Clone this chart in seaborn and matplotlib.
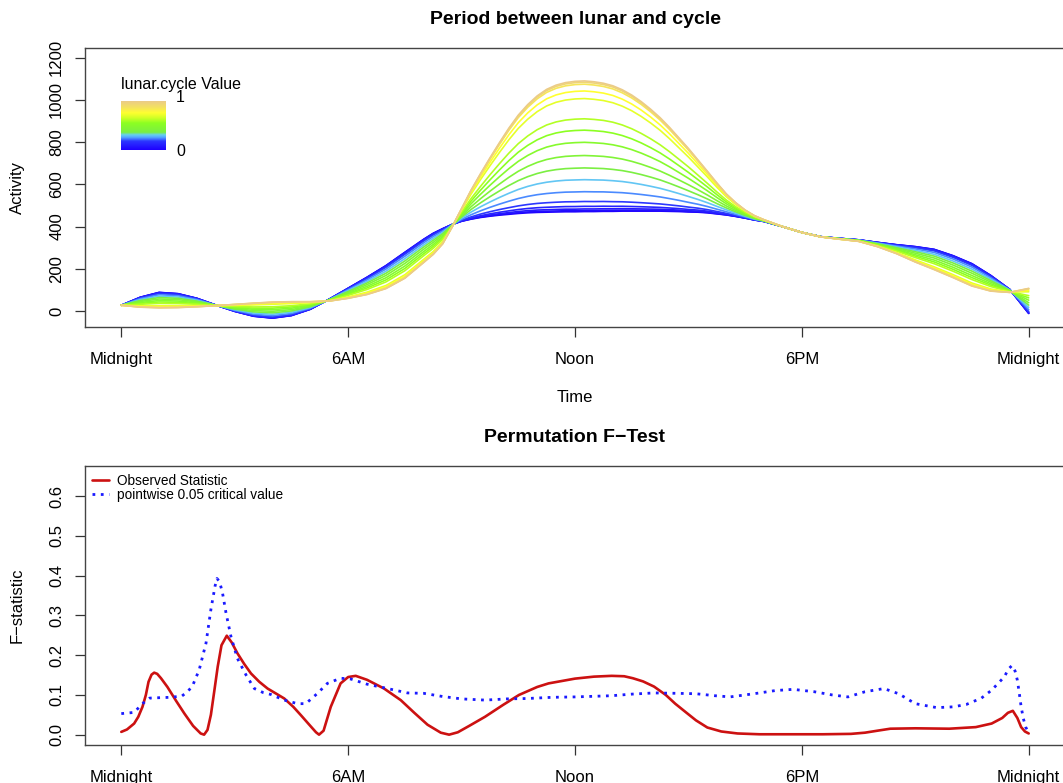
import numpy as np
import pandas as pd
import matplotlib
matplotlib.use("Agg")
import matplotlib.pyplot as plt
from matplotlib.colors import LinearSegmentedColormap
from matplotlib.lines import Line2D
import seaborn as sns

# ---------------- donnees ----------------
# grille horaire (heures depuis minuit), plus fine autour du pic de midi
hours = [0, 0.5, 1, 1.5, 2, 2.5, 3, 3.5, 4, 4.5, 5, 5.5, 6, 6.5, 7, 7.5,
         8, 8.25, 8.5, 8.75, 9, 9.25, 9.5, 9.75, 10, 10.25, 10.5, 10.75, 11, 11.25,
         11.5, 11.75, 12, 12.25, 12.5, 12.75, 13, 13.25, 13.5, 13.75, 14, 14.25,
         14.5, 14.75, 15, 15.25, 15.5, 15.75, 16, 16.25, 16.5, 16.75, 17,
         17.5, 18, 18.5, 19, 19.5, 20, 20.5, 21, 21.5, 22, 22.5, 23, 23.5, 24]

# courbe lunar.cycle = 0 (bleu)
activity_low = [27, 65, 88, 82, 60, 28, -2, -25, -34, -22, 8, 56, 108, 160, 215, 278,
                340, 368, 390, 410, 425, 435, 443, 449, 454, 458, 462, 465, 467, 468,
                469, 470, 470, 471, 471, 472, 472, 473, 473, 473, 473, 473,
                472, 471, 469, 468, 465, 460, 455, 448, 440, 431, 424,
                399, 372, 352, 344, 337, 325, 314, 305, 292, 262, 224, 168, 102, -12]

# courbe lunar.cycle = 1 (beige)
activity_high = [27, 18, 15, 16, 20, 25, 31, 37, 42, 44, 44, 47, 60, 78, 106, 155,
                 230, 268, 318, 398, 485, 572, 650, 725, 797, 866, 928, 978, 1019, 1050,
                 1070, 1082, 1088, 1090, 1086, 1079, 1067, 1048, 1023, 992, 956, 916,
                 870, 820, 770, 716, 662, 607, 555, 513, 478, 451, 432,
                 399, 372, 351, 340, 330, 305, 272, 232, 196, 158, 118, 94, 88, 107]

# position relative de chaque courbe entre les deux extremes (lue au pic de midi)
peak_weight = [0, 0.008, 0.02, 0.04, 0.077, 0.152, 0.244, 0.334, 0.429, 0.53,
               0.623, 0.71, 0.865, 0.923, 0.975, 0.99, 1.0]
lunar_value = [0, 0.04, 0.08, 0.12, 0.18, 0.24, 0.30, 0.37, 0.43, 0.49,
               0.55, 0.61, 0.70, 0.76, 0.85, 0.93, 1.0]

# statistique F observee
obs_time = [0, 0.15, 0.34, 0.45, 0.56, 0.65, 0.72, 0.8, 0.87, 0.95, 1.05, 1.22, 1.45, 1.67,
            1.9, 2.1, 2.19, 2.28, 2.37, 2.46, 2.55, 2.65, 2.79, 2.92, 3.07, 3.25, 3.43,
            3.65, 3.87, 4.1, 4.31, 4.55, 4.75, 5.0, 5.15, 5.23, 5.35, 5.54, 5.8, 6.0, 6.2,
            6.5, 6.95, 7.39, 7.75, 8.1, 8.45, 8.67, 8.9, 9.2, 9.62, 10.1, 10.52, 11.0,
            11.3, 12.0, 12.5, 12.97, 13.3, 13.53, 13.8, 14.09, 14.4, 14.65, 14.95, 15.2,
            15.5, 15.87, 16.3, 16.88, 18.55, 19.3, 19.67, 20.0, 20.34, 21.0, 21.9, 22.6,
            23.02, 23.3, 23.45, 23.58, 23.7, 23.8, 23.9, 24.0]
obs_stat = [0.007, 0.013, 0.028, 0.045, 0.07, 0.1, 0.133, 0.151, 0.156, 0.153, 0.142,
            0.12, 0.085, 0.053, 0.022, 0.003, 0.0, 0.012, 0.05, 0.11, 0.171, 0.225, 0.249,
            0.232, 0.205, 0.178, 0.154, 0.133, 0.116, 0.103, 0.091, 0.07, 0.049, 0.022,
            0.006, 0.0, 0.01, 0.07, 0.129, 0.145, 0.148, 0.138, 0.116, 0.087, 0.055,
            0.025, 0.005, 0.0, 0.006, 0.022, 0.045, 0.075, 0.1, 0.12, 0.129, 0.141, 0.146,
            0.148, 0.147, 0.142, 0.134, 0.121, 0.1, 0.078, 0.055, 0.036, 0.018, 0.008,
            0.003, 0.001, 0.001, 0.002, 0.005, 0.01, 0.015, 0.016, 0.015, 0.019, 0.028,
            0.042, 0.055, 0.06, 0.042, 0.019, 0.008, 0.003]

# valeur critique ponctuelle 0.05
crit_time = [0, 0.34, 0.56, 0.75, 1.0, 1.3, 1.6, 1.75, 1.88, 2.06, 2.24, 2.37, 2.48, 2.53,
             2.6, 2.68, 2.77, 2.9, 3.07, 3.3, 3.52, 3.75, 3.96, 4.31, 4.66, 4.88, 5.19,
             5.45, 5.8, 6.07, 6.5, 6.95, 7.57, 8.0, 8.5, 9.0, 9.62, 10.2, 10.74, 11.4, 12.0,
             12.97, 13.5, 14.09, 14.7, 15.2, 15.7, 16.1, 16.5, 16.88, 17.3, 17.77, 18.33,
             18.8, 19.22, 19.67, 20.17, 20.56, 21.0, 21.57, 22.0, 22.35, 22.75, 23.02, 23.2,
             23.36, 23.46, 23.56, 23.64, 23.7, 23.75, 23.8, 23.86, 23.92, 24.0]
crit_stat = [0.053, 0.056, 0.078, 0.092, 0.093, 0.094, 0.097, 0.108, 0.122, 0.163, 0.23,
             0.315, 0.374, 0.393, 0.385, 0.355, 0.306, 0.247, 0.192, 0.15, 0.116, 0.106,
             0.101, 0.087, 0.078, 0.078, 0.104, 0.129, 0.142, 0.14, 0.127, 0.118, 0.105,
             0.104, 0.096, 0.09, 0.087, 0.09, 0.091, 0.094, 0.095, 0.098, 0.102, 0.105,
             0.104, 0.103, 0.098, 0.095, 0.1, 0.105, 0.111, 0.114, 0.108, 0.1, 0.095, 0.108,
             0.116, 0.103, 0.078, 0.068, 0.07, 0.076, 0.092, 0.112, 0.13, 0.146, 0.165,
             0.174, 0.16, 0.137, 0.105, 0.07, 0.04, 0.019, 0.005]

tick_hours = [0, 6, 12, 18, 24]
tick_names = ["Midnight", "6AM", "Noon", "6PM", "Midnight"]

# ---------------- mise en forme ----------------
rows = []
for w, lv in zip(peak_weight, lunar_value):
    for h, lo, hi in zip(hours, activity_low, activity_high):
        rows.append({"time": h, "activity": lo + w * (hi - lo), "lunar": lv})
df_top = pd.DataFrame(rows)
df_obs = pd.DataFrame({"time": obs_time, "F": obs_stat})
df_crit = pd.DataFrame({"time": crit_time, "F": crit_stat})

lunar_cmap = LinearSegmentedColormap.from_list("lunar", [
    (0.0, "#1E00FF"), (0.18, "#2C36FF"), (0.26, "#55A8FF"), (0.31, "#66D0F0"),
    (0.36, "#7AEE44"), (0.55, "#8CFF22"), (0.66, "#D2FF26"), (0.76, "#FFFF30"),
    (0.86, "#F5E45C"), (1.0, "#EBCB88")])

sns.set_theme(style="ticks")
plt.rcParams["font.family"] = ["Liberation Sans", "DejaVu Sans"]
plt.rcParams["axes.edgecolor"] = "#444444"
plt.rcParams["axes.linewidth"] = 1.0
plt.rcParams["text.color"] = "black"
plt.rcParams["axes.labelcolor"] = "black"

W, H = 1063, 783
fig = plt.figure(figsize=(W / 100, H / 100), dpi=100)
ax1 = fig.add_axes([85 / W, 1 - 327 / H, 980 / W, 279 / H])
ax2 = fig.add_axes([85 / W, 1 - 745 / H, 980 / W, 279 / H])

# panneau du haut
sns.lineplot(data=df_top, x="time", y="activity", hue="lunar", palette=lunar_cmap,
             hue_norm=(0, 1), estimator=None, sort=False, legend=False,
             linewidth=1.2, ax=ax1)
ax1.set_xlim(-0.96, 24.96)
ax1.set_ylim(-76, 1246)
ax1.set_yticks([0, 200, 400, 600, 800, 1000, 1200])

# legende en degrade
cax = ax1.inset_axes([(121 - 85) / 980, (327 - 150) / 279, 45 / 980, 49 / 279])
cax.imshow(np.linspace(0, 1, 256).reshape(-1, 1), cmap=lunar_cmap, origin="lower",
           aspect="auto")
cax.set_axis_off()
ax1.text((121 - 85) / 980, (327 - 84) / 279, "lunar.cycle Value", transform=ax1.transAxes,
         ha="left", va="center", fontsize=11.5)
ax1.text((176 - 85) / 980, (327 - 98) / 279, "1", transform=ax1.transAxes,
         ha="left", va="center", fontsize=11.5)
ax1.text((176 - 85) / 980, (327 - 151) / 279, "0", transform=ax1.transAxes,
         ha="left", va="center", fontsize=11.5)

# panneau du bas
sns.lineplot(data=df_obs, x="time", y="F", color="#CC1111", linewidth=1.9,
             estimator=None, sort=False, ax=ax2)
sns.lineplot(data=df_crit, x="time", y="F", color="#1A1AFF", linewidth=2.0,
             linestyle=(0, (1, 2)), estimator=None, sort=False, ax=ax2)
ax2.set_xlim(-0.96, 24.96)
ax2.set_ylim(-0.026, 0.676)
ax2.set_yticks([0.0, 0.1, 0.2, 0.3, 0.4, 0.5, 0.6])
ax2.set_yticklabels(["0.0", "0.1", "0.2", "0.3", "0.4", "0.5", "0.6"])

handles = [Line2D([], [], color="#CC1111", linewidth=1.9),
           Line2D([], [], color="#1A1AFF", linewidth=2.0, linestyle=(0, (1, 2)))]
ax2.legend(handles, ["Observed Statistic", "pointwise 0.05 critical value"],
           loc="upper left", bbox_to_anchor=(7 / 980, 0.972), frameon=False,
           fontsize=9.8, handlelength=1.25, handletextpad=0.6, labelspacing=0.0,
           borderpad=0, borderaxespad=0, labelcolor="black")

for ax in (ax1, ax2):
    ax.set_xticks(tick_hours)
    ax.set_xticklabels(tick_names)
    ax.set_xlabel("")
    ax.set_ylabel("")
    for s in ax.spines.values():
        s.set_visible(True)
    ax.tick_params(axis="both", direction="out", length=7, width=0.9, colors="#333333",
                   labelsize=12, labelcolor="black")
    ax.tick_params(axis="x", pad=11)
    ax.tick_params(axis="y", pad=8, labelrotation=90)
    for lab in ax.get_yticklabels():
        lab.set_va("center")

fig.text(575 / W, 1 - 20 / H, "Period between lunar and cycle", ha="center", va="center",
         fontsize=14, fontweight="bold")
fig.text(575 / W, 1 - 437 / H, "Permutation F\u2212Test", ha="center", va="center",
         fontsize=14, fontweight="bold")
fig.text(575 / W, 1 - 397 / H, "Time", ha="center", va="center", fontsize=12)
fig.text(17 / W, 1 - 188 / H, "Activity", ha="center", va="center", fontsize=12,
         rotation=90)
fig.text(17 / W, 1 - 605 / H, "F\u2212statistic", ha="center", va="center", fontsize=12,
         rotation=90)

fig.savefig("out.png", dpi=100)
